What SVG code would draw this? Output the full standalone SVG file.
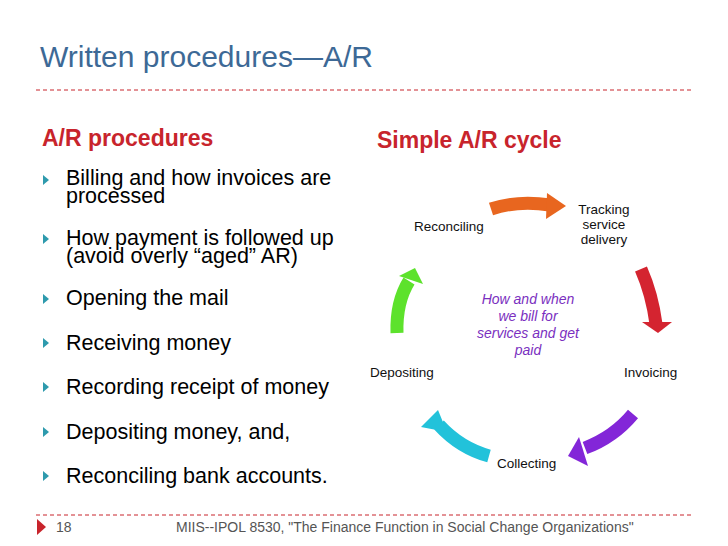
<svg xmlns="http://www.w3.org/2000/svg" width="728" height="546" viewBox="0 0 728 546">
<style>
.b{font-family:"Liberation Sans",Arial,sans-serif;font-size:21.5px;fill:#000}
.h{font-family:"Liberation Sans",Arial,sans-serif;font-size:23px;font-weight:bold;fill:#c8242c}
.l{font-family:"Liberation Sans",Arial,sans-serif;font-size:13.5px;fill:#111}
.c{font-family:"Liberation Sans",Arial,sans-serif;font-size:14px;font-style:italic;fill:#7a2fc0}
.f{font-family:"Liberation Sans",Arial,sans-serif;font-size:14px;fill:#555}
.d{stroke:#c8242c;stroke-width:1;stroke-dasharray:4,3}
.bl{fill:#2e9aad}
.arr{fill:none;stroke-width:13}
</style>
<rect width="728" height="546" fill="#fff"/>
<text x="40" y="67" font-family="Liberation Sans,Arial,sans-serif" font-size="30" fill="#3d6996">Written procedures—A/R</text>
<line class="d" x1="36" y1="90" x2="692" y2="90"/>
<text class="h" x="42" y="146">A/R procedures</text>
<text class="h" x="377" y="148">Simple A/R cycle</text>
<g id="bullets">
<polygon class="bl" points="43,175 49,180 43,185"/>
<text class="b" x="66" y="185">Billing and how invoices are</text>
<text class="b" x="66" y="203">processed</text>
<polygon class="bl" points="43,234 49,239 43,244"/>
<text class="b" x="66" y="245">How payment is followed up</text>
<text class="b" x="66" y="263">(avoid overly “aged” AR)</text>
<polygon class="bl" points="43,294 49,299 43,304"/>
<text class="b" x="66" y="305">Opening the mail</text>
<polygon class="bl" points="43,338 49,343 43,348"/>
<text class="b" x="66" y="350">Receiving money</text>
<polygon class="bl" points="43,382 49,387 43,392"/>
<text class="b" x="66" y="394">Recording receipt of money</text>
<polygon class="bl" points="43,427 49,432 43,437"/>
<text class="b" x="66" y="439">Depositing money, and,</text>
<polygon class="bl" points="43,471 49,476 43,481"/>
<text class="b" x="66" y="483">Reconciling bank accounts.</text>
</g>
<g id="connectors">
<path class="arr" stroke="#e8661f" d="M491,209 Q518,200 550,205"/>
<polygon fill="#e8661f" points="547,193 566,206 546,219"/>
<path class="arr" stroke="#d42430" d="M641,269 Q652,294 656,324"/>
<polygon fill="#d42430" points="642,322 672,322 658,333"/>
<path class="arr" stroke="#8326d8" d="M633,414 Q614,437 585,448"/>
<polygon fill="#8326d8" points="579,437 568,456 588,466"/>
<path class="arr" stroke="#22c2da" d="M489,456 Q460,448 439,425"/>
<polygon fill="#22c2da" points="438,410 421,427 447,432"/>
<path class="arr" stroke="#5de22c" d="M397,333 Q396,302 409,281"/>
<polygon fill="#5de22c" points="399,276 415,268 423,284"/>
</g>
<g id="n-tracking"><text class="l" text-anchor="middle" x="604" y="214">Tracking</text><text class="l" text-anchor="middle" x="604" y="229">service</text><text class="l" text-anchor="middle" x="604" y="244">delivery</text></g>
<g id="n-reconciling"><text class="l" x="414" y="231">Reconciling</text></g>
<g id="n-invoicing"><text class="l" x="624" y="377">Invoicing</text></g>
<g id="n-depositing"><text class="l" x="370" y="377">Depositing</text></g>
<g id="n-collecting"><text class="l" x="497" y="468">Collecting</text></g>
<g id="n-center"><text class="c" text-anchor="middle" x="528" y="304">How and when</text><text class="c" text-anchor="middle" x="528" y="321">we bill for</text><text class="c" text-anchor="middle" x="528" y="338">services and get</text><text class="c" text-anchor="middle" x="528" y="355">paid</text></g>
<line class="d" x1="36" y1="515" x2="692" y2="515"/>
<polygon fill="#c8242c" points="37,519 46,527 37,535"/>
<text class="f" x="56" y="532">18</text>
<text class="f" x="176" y="532">MIIS--IPOL 8530, "The Finance Function in Social Change Organizations"</text>
</svg>
